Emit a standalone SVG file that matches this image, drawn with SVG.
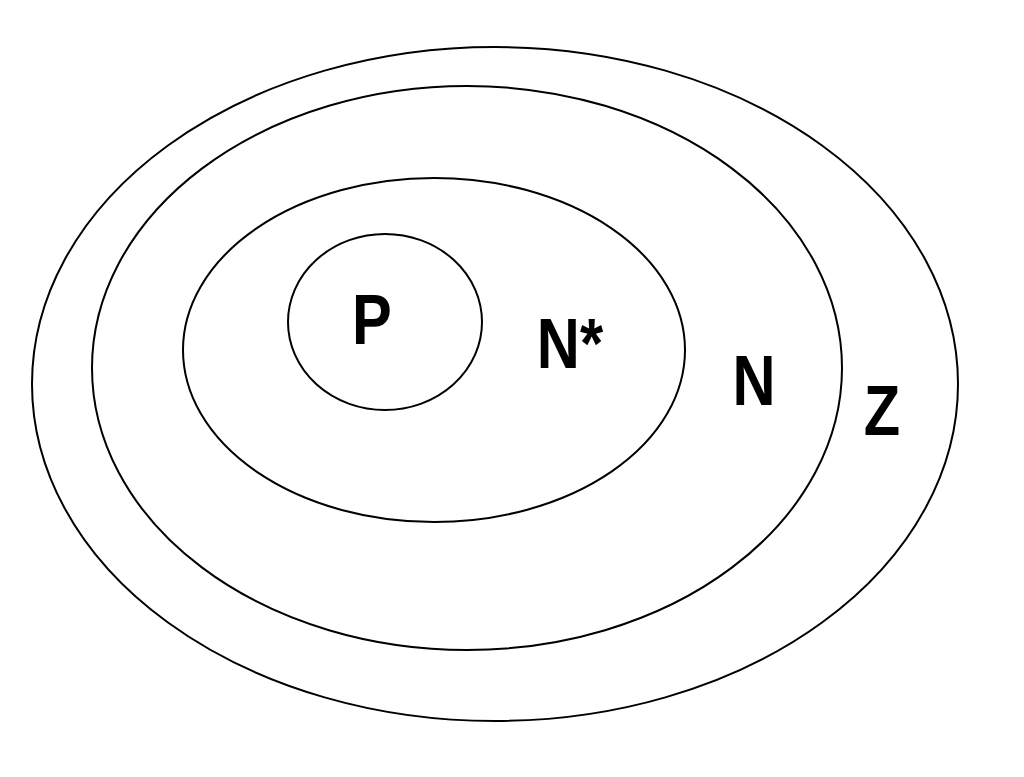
<svg xmlns="http://www.w3.org/2000/svg" width="1024" height="777" viewBox="0 0 1024 777">
<style>
.s{fill:none;stroke:#000;stroke-width:2}
.t{font-family:"Liberation Sans",Arial,sans-serif;font-weight:bold;font-size:71px;fill:#000;text-anchor:middle}
</style>
<rect width="1024" height="777" fill="#fff"/>
<g id="Z"><ellipse class="s" cx="495" cy="384" rx="463" ry="337"/><text class="t" transform="translate(882,435) scale(0.84,1)">Z</text></g>
<g id="N"><ellipse class="s" cx="467" cy="368" rx="375" ry="282"/><text class="t" transform="translate(754,405) scale(0.84,1)">N</text></g>
<g id="Nstar"><ellipse class="s" cx="434" cy="350" rx="251" ry="172"/><text class="t" transform="translate(570,368) scale(0.84,1)">N*</text></g>
<g id="P"><ellipse class="s" cx="385" cy="322" rx="97" ry="88"/><text class="t" transform="translate(372,344) scale(0.84,1)">P</text></g>
</svg>
